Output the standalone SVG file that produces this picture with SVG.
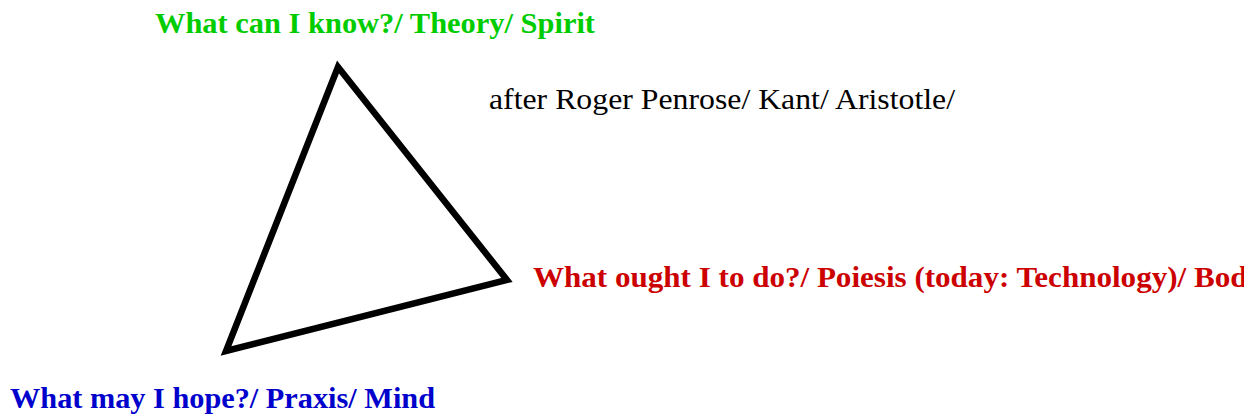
<svg xmlns="http://www.w3.org/2000/svg" width="1244" height="416" viewBox="0 0 1244 416">
<style>
text{font-family:"Liberation Serif","DejaVu Serif",serif;font-size:29px}
.b{font-weight:bold}
.edge{fill:none;stroke:#000;stroke-width:6.5;stroke-linejoin:miter;stroke-miterlimit:10}
</style>
<rect width="1244" height="416" fill="#fff"/>
<g id="connectors">
<polygon class="edge" points="338,67 507,280 226,351"/>
</g>
<g id="node-know">
<text class="b" x="155" y="33" fill="#00cc00" textLength="440" lengthAdjust="spacingAndGlyphs">What can I know?/ Theory/ Spirit</text>
</g>
<g id="node-note">
<text x="489" y="109" fill="#000" textLength="466" lengthAdjust="spacingAndGlyphs">after Roger Penrose/ Kant/ Aristotle/</text>
</g>
<g id="node-do">
<text class="b" x="533" y="287" fill="#cc0000" textLength="730" lengthAdjust="spacingAndGlyphs">What ought I to do?/ Poiesis (today: Technology)/ Body</text>
</g>
<g id="node-hope">
<text class="b" x="10" y="408" fill="#0000cc" textLength="425" lengthAdjust="spacingAndGlyphs">What may I hope?/ Praxis/ Mind</text>
</g>
</svg>
